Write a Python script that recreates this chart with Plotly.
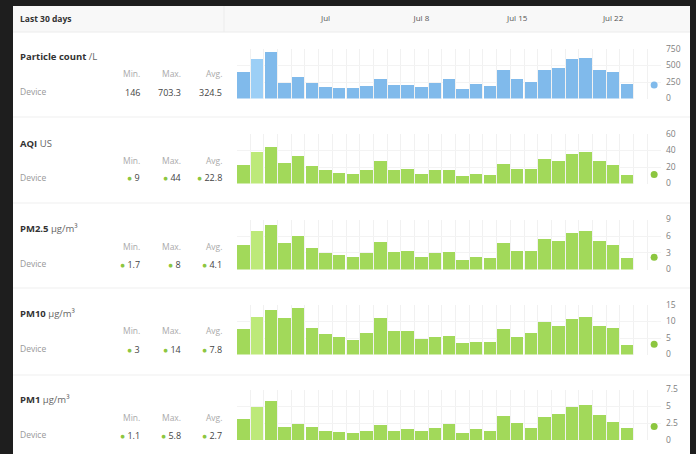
import pandas as pd
import plotly.graph_objects as go

# ---------------- data ----------------
dates = pd.date_range("2024-06-25", periods=29).strftime("%Y-%m-%d").tolist()
latest_date = "2024-07-25"

particle = [408, 602, 703.3, 241, 332, 231, 180, 165, 165, 195, 301, 200, 200, 180, 241,
            297, 146, 221, 195, 434, 301, 256, 434, 469, 591, 612, 439, 399, 221]
aqi = [23, 38, 44, 25, 33, 21, 16, 13, 11, 16, 27, 16, 18, 12, 16,
       16, 9, 11, 10, 24, 18, 18, 30, 27, 36, 38, 27, 22, 10]
pm25 = [4.4, 6.9, 8.0, 4.8, 6.0, 3.9, 2.9, 2.7, 2.3, 2.9, 5.0, 3.1, 3.4, 2.3, 2.9,
        3.2, 1.7, 2.3, 2.0, 4.8, 3.4, 3.4, 5.5, 5.2, 6.6, 6.9, 5.2, 4.4, 2.0]
pm10 = [7.6, 11.4, 13.6, 11.2, 14, 8.0, 6.2, 5.3, 4.4, 6.6, 11.2, 7.2, 7.2, 4.8, 5.2,
        5.6, 3.4, 3.8, 3.8, 7.6, 5.3, 6.6, 10.0, 8.6, 10.7, 11.5, 8.6, 8.0, 3.0]
pm1 = [3.1, 4.9, 5.8, 1.9, 2.4, 1.9, 1.4, 1.2, 1.1, 1.4, 2.2, 1.4, 1.6, 1.4, 1.8,
       2.4, 1.1, 1.6, 1.4, 3.5, 2.5, 1.8, 3.4, 3.9, 4.9, 5.2, 3.7, 2.7, 1.8]
latest_values = [205, 11, 2.2, 3.1, 2.0]

metric_names = ["Particle count", "AQI", "PM2.5", "PM10", "PM1"]
metric_units = ["/L", "US", "µg/m³", "µg/m³", "µg/m³"]
stat_min = ["146", "9", "1.7", "3", "1.1"]
stat_max = ["703.3", "44", "8", "14", "5.8"]
stat_avg = ["324.5", "22.8", "4.1", "7.8", "2.7"]

y_tickvals = [[0, 250, 500, 750], [0, 20, 40, 60], [0, 3, 6, 9], [0, 5, 10, 15], [0, 2.5, 5, 7.5]]
y_ticktext = [["0", "250", "500", "750"], ["0", "20", "40", "60"], ["0", "3", "6", "9"],
              ["0", "5", "10", "15"], ["0", "2.5", "5", "7.5"]]

date_tickvals = ["2024-07-01", "2024-07-08", "2024-07-15", "2024-07-22"]
date_ticktext = ["Jul", "Jul 8", "Jul 15", "Jul 22"]
highlight_index = 1

series = [particle, aqi, pm25, pm10, pm1]

# ---------------- layout helpers ----------------
W, H = 696, 454
def px(x):
    return x / W
def py(y):
    return 1 - y / H

FONT = "Open Sans, Noto Sans, sans-serif"
BLUE, BLUE_L = "#80baeb", "#9ccff6"
GREEN, GREEN_L = "#a2d95a", "#bde979"
DOT_GREEN = "#8cc63f"

# plot-area pixel rows (top, bottom)
rows = [(49, 98.5), (134, 183.5), (219.5, 269.5), (305, 354.5), (389.5, 440)]
x_dom = [px(236.5), px(661)]
x_range = ["2024-06-24 12:00", "2024-07-25 12:00"]
DAY = 86400000

fig = go.Figure()
layout = dict(
    width=W, height=H, margin=dict(l=0, r=0, t=0, b=0, pad=0, autoexpand=False),
    paper_bgcolor="#1e1e1e", plot_bgcolor="rgba(0,0,0,0)",
    showlegend=False, bargap=0, font=dict(family=FONT),
)

annotations = []
shapes = [
    dict(type="rect", xref="paper", yref="paper", x0=px(13), x1=px(690), y0=py(6), y1=0,
         fillcolor="white", line_width=0, layer="below"),
    dict(type="rect", xref="paper", yref="paper", x0=px(13), x1=px(690), y0=py(6), y1=py(32),
         fillcolor="#f8f8f8", line_width=0, layer="below"),
    dict(type="line", xref="paper", yref="paper", x0=px(13), x1=px(690), y0=py(32), y1=py(32),
         line=dict(color="#ececec", width=1), layer="below"),
    dict(type="line", xref="paper", yref="paper", x0=px(224), x1=px(224), y0=py(6), y1=py(32),
         line=dict(color="#ececec", width=1), layer="below"),
]
for sep in [117, 203, 288, 375]:
    shapes.append(dict(type="line", xref="paper", yref="paper", x0=px(13), x1=px(690),
                       y0=py(sep), y1=py(sep), line=dict(color="#efefef", width=1), layer="below"))

annotations.append(dict(text="<b>Last 30 days</b>", x=px(18), y=py(19), xref="paper", yref="paper",
                        xanchor="left", yanchor="middle", showarrow=False,
                        font=dict(size=8.5, color="#333")))

text_rows = [(57, 73, 91), (143, 160, 177), (228, 246, 263), (313, 330, 348), (399, 417, 434)]
col_x = [142, 183, 224.5]

for i, vals in enumerate(series):
    n = "" if i == 0 else str(i + 1)
    base = BLUE if i == 0 else GREEN
    light = BLUE_L if i == 0 else GREEN_L
    colors = [light if k == highlight_index else base for k in range(len(vals))]
    fig.add_trace(go.Bar(x=dates, y=vals, marker=dict(color=colors, line_width=0),
                         width=0.91 * DAY, xaxis="x" + n, yaxis="y" + n, hoverinfo="skip"))
    fig.add_trace(go.Scatter(x=[latest_date], y=[latest_values[i]], mode="markers",
                             marker=dict(color=BLUE if i == 0 else DOT_GREEN, size=7),
                             cliponaxis=False, xaxis="x" + n, yaxis="y" + n, hoverinfo="skip"))
    top, bot = rows[i]
    yt = y_tickvals[i]
    layout["xaxis" + n] = dict(domain=x_dom, anchor="y" + n, type="date", range=x_range,
                               tick0="2024-06-24 12:00", dtick=DAY, showticklabels=False,
                               ticks="", showgrid=True, gridcolor="#f1f1f1", gridwidth=1,
                               zeroline=False, showline=False, fixedrange=True, automargin=False)
    layout["yaxis" + n] = dict(domain=[py(bot), py(top)], anchor="x" + n, side="right",
                               range=[0, yt[-1]], tickvals=yt, ticktext=y_ticktext[i],
                               showgrid=True, gridcolor="#f3f3f3", zeroline=False,
                               showline=False, ticks="", ticklabelstandoff=4, automargin=False,
                               tickfont=dict(size=8.5, color="#808080"), fixedrange=True)

    t, m, d = text_rows[i]
    annotations.append(dict(
        text=f"<b>{metric_names[i]}</b> <span style='color:#666'>{metric_units[i]}</span>",
        x=px(17.5), y=py(t), xref="paper", yref="paper", xanchor="left", yanchor="middle",
        showarrow=False, font=dict(size=9.5, color="#333")))
    for cx, lab in zip(col_x, ["Min.", "Max.", "Avg."]):
        annotations.append(dict(text=lab, x=px(cx), y=py(m), xref="paper", yref="paper",
                                xanchor="right", yanchor="middle", showarrow=False,
                                font=dict(size=8.5, color="#aaa")))
    annotations.append(dict(text="Device", x=px(17.5), y=py(d), xref="paper", yref="paper",
                            xanchor="left", yanchor="middle", showarrow=False,
                            font=dict(size=8.5, color="#999")))
    for cx, v in zip(col_x, [stat_min[i], stat_max[i], stat_avg[i]]):
        txt = v if i == 0 else f"<span style='color:{DOT_GREEN};font-size:8.5px'>●</span> {v}"
        annotations.append(dict(text=txt, x=px(cx), y=py(d + 1), xref="paper", yref="paper",
                                xanchor="right", yanchor="middle", showarrow=False,
                                font=dict(size=9, color="#444")))

# header date axis
fig.add_trace(go.Scatter(x=[dates[0]], y=[0], mode="markers", marker=dict(opacity=0),
                         xaxis="x6", yaxis="y", hoverinfo="skip", showlegend=False))
layout["xaxis6"] = dict(overlaying="x", anchor="free", position=py(12), side="bottom",
                        type="date", range=x_range, tickvals=date_tickvals,
                        ticktext=date_ticktext, showgrid=False, zeroline=False,
                        showline=False, ticks="", tickfont=dict(size=8, color="#555"),
                        fixedrange=True, automargin=False)

layout["annotations"] = annotations
layout["shapes"] = shapes
fig.update_layout(**layout)

fig.write_html(
    "out.html",
    config={"displayModeBar": False, "staticPlot": True},
    post_script=(
        "document.documentElement.style.margin='0';"
        "document.body.style.margin='0';document.body.style.padding='0';"
        "document.body.style.overflow='hidden';document.body.style.background='#1e1e1e';"
        "var gd=document.getElementById('{plot_id}');"
        "gd.style.position='absolute';gd.style.left='0px';gd.style.top='0px';"
    ),
)
